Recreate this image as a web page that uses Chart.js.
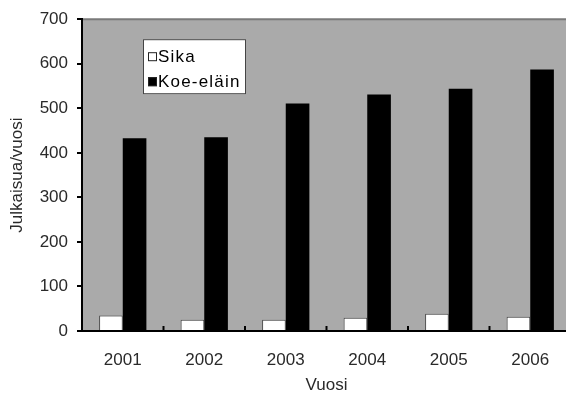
<!DOCTYPE html>
<html>
<head>
<meta charset="utf-8">
<script src="https://cdn.jsdelivr.net/npm/chart.js@4/dist/chart.umd.min.js"></script>
<style>
    body { margin: 0; overflow: hidden; background: #fff; }
    #wrap { width: 566px; height: 394px; overflow: hidden; }
</style>
</head>
<body>
<div id="wrap">
    <canvas id="barChart" width="572" height="394"></canvas>
</div>
<script>
// data
const years = ["2001", "2002", "2003", "2004", "2005", "2006"];
const sika = [35, 25, 25, 30, 39, 32];
const koeElain = [433, 435, 511, 531, 544, 587];
const yTicks = [0, 100, 200, 300, 400, 500, 600, 700];

const FONT = "'Liberation Sans', Arial, sans-serif";
const TEXT = "#2a2a2a";

// grey plot area + inner ticks on x axis + legend box
const plotDecor = {
    id: "plotDecor",
    beforeDraw(chart) {
        const a = chart.chartArea;
        const ctx = chart.ctx;
        ctx.save();
        ctx.fillStyle = "#aaaaaa";
        ctx.fillRect(a.left, a.top, a.right - a.left, a.bottom - a.top);
        ctx.strokeStyle = "#7a7a7a";
        ctx.lineWidth = 2;
        ctx.beginPath();
        ctx.moveTo(a.left, a.top);
        ctx.lineTo(a.right, a.top);
        ctx.stroke();
        ctx.restore();
    },
    afterDraw(chart) {
        const a = chart.chartArea;
        const ctx = chart.ctx;
        const x = chart.scales.x;
        ctx.save();
        // small upward ticks between categories
        ctx.strokeStyle = "#000";
        ctx.lineWidth = 2;
        for (let i = 1; i < years.length; i++) {
            const px = (x.getPixelForTick(i - 1) + x.getPixelForTick(i)) / 2;
            ctx.beginPath();
            ctx.moveTo(px, a.bottom);
            ctx.lineTo(px, a.bottom - 5);
            ctx.stroke();
        }

        // legend
        const lx = a.left + 61, ly = a.top + 20;
        ctx.fillStyle = "#fff";
        ctx.fillRect(lx, ly, 103, 55);
        ctx.strokeStyle = "#444";
        ctx.lineWidth = 1;
        ctx.strokeRect(lx + 0.5, ly + 0.5, 102, 54);
        ctx.font = "17px " + FONT;
        ctx.letterSpacing = "1.2px";
        ctx.textBaseline = "middle";
        chart.data.datasets.forEach((ds, i) => {
            const cy = ly + 17 + i * 25;
            ctx.fillStyle = ds.backgroundColor;
            ctx.fillRect(lx + 5, cy - 4, 9, 9);
            ctx.strokeStyle = "#222";
            ctx.strokeRect(lx + 5.5, cy - 3.5, 8, 8);
            ctx.fillStyle = "#000";
            ctx.fillText(ds.label, lx + 15, cy + 1);
        });
        ctx.restore();
    }
};

new Chart(document.getElementById("barChart"), {
    type: "bar",
    data: {
        labels: years,
        datasets: [
            {
                label: "Sika",
                data: sika,
                backgroundColor: "#ffffff",
                borderColor: "#444",
                borderWidth: 1,
                categoryPercentage: 0.58,
                barPercentage: 1.0
            },
            {
                label: "Koe-eläin",
                data: koeElain,
                backgroundColor: "#000000",
                borderWidth: 0,
                categoryPercentage: 0.58,
                barPercentage: 1.0
            }
        ]
    },
    options: {
        responsive: false,
        animation: false,
        layout: { padding: { top: 15, right: 1, left: 0, bottom: 0 } },
        plugins: {
            legend: { display: false },
            tooltip: { enabled: false }
        },
        scales: {
            x: {
                grid: { display: false, offset: true },
                border: { display: true, color: "#000", width: 2 },
                ticks: { color: TEXT, font: { family: FONT, size: 17 }, padding: 11 },
                title: {
                    display: true,
                    text: "Vuosi",
                    color: TEXT,
                    font: { family: FONT, size: 17 },
                    padding: { top: 0, bottom: -2 }
                },
                afterFit(scale) { scale.height = 63; }
            },
            y: {
                min: 0,
                max: 700,
                afterBuildTicks(scale) { scale.ticks = yTicks.map(v => ({ value: v })); },
                grid: { drawOnChartArea: false, drawTicks: true, tickLength: 5, color: "#000", lineWidth: 2 },
                border: { display: true, color: "#000", width: 2 },
                ticks: { color: TEXT, font: { family: FONT, size: 17 }, padding: 9 },
                title: {
                    display: true,
                    text: "Julkaisua/vuosi",
                    color: TEXT,
                    font: { family: FONT, size: 17 },
                    padding: { top: 7, bottom: 0 }
                },
                afterFit(scale) { scale.width = 82; }
            }
        }
    },
    plugins: [plotDecor]
});
</script>
</body>
</html>
